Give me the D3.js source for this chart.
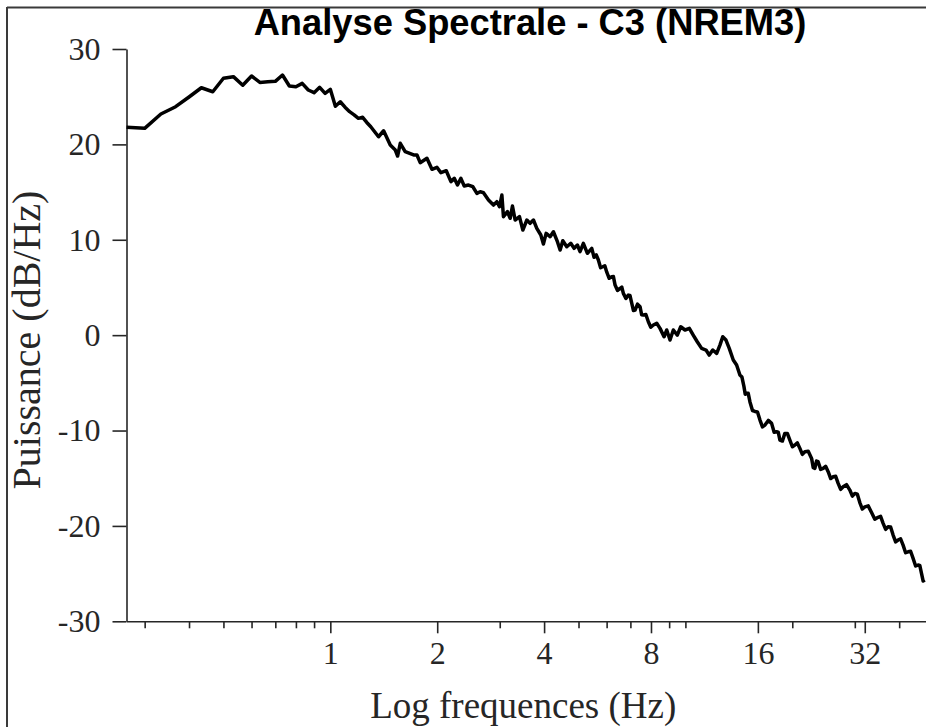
<!DOCTYPE html>
<html><head><meta charset="utf-8">
<script src="https://cdn.jsdelivr.net/npm/d3@7"></script>
<style>html,body{margin:0;padding:0;background:#fff;overflow:hidden}svg{display:block}</style>
</head><body><div id="chart"></div>
<script>
const freqHz = [0.2667,0.3,0.3333,0.3667,0.4,0.4333,0.4667,0.5,0.5333,0.5667,0.6,0.6333,0.6667,0.7,0.7333,0.7667,0.8,0.8333,0.8667,0.9,0.9333,0.9667,1.0,1.0333,1.0667,1.1,1.1333,1.1667,1.2,1.2333,1.2667,1.3,1.367,1.413,1.475,1.524,1.547,1.574,1.625,1.716,1.754,1.791,1.871,1.933,1.996,2.049,2.121,2.186,2.234,2.281,2.332,2.383,2.449,2.52,2.587,2.642,2.70,2.789,2.881,2.945,2.995,3.042,3.073,3.154,3.21,3.258,3.315,3.409,3.485,3.577,3.653,3.733,3.815,3.916,3.982,4.053,4.159,4.249,4.361,4.438,4.516,4.634,4.756,4.859,4.964,5.05,5.16,5.297,5.449,5.531,5.61,5.687,5.77,5.852,5.93,6.006,6.10,6.203,6.27,6.338,6.44,6.546,6.62,6.688,6.80,6.908,6.98,7.063,7.14,7.216,7.33,7.453,7.53,7.613,7.74,7.864,7.99,8.124,8.304,8.483,8.707,8.86,9.051,9.247,9.489,9.701,9.975,10.26,10.52,10.8,11.11,11.43,11.67,11.94,12.25,12.51,12.74,13.01,13.29,13.64,13.94,14.24,14.43,14.62,14.74,14.87,15.03,15.2,15.45,15.7,15.96,16.22,16.48,16.75,17.12,17.49,17.78,18.07,18.26,18.46,18.76,19.06,19.37,19.69,20.01,20.34,20.67,21.01,21.35,21.7,22.18,22.67,22.91,23.15,23.4,23.65,24.04,24.43,24.83,25.24,25.66,26.08,26.5,26.93,27.37,27.82,28.43,29.05,29.53,30.01,30.5,30.99,31.5,32.01,32.72,33.44,34.16,34.89,35.46,36.05,36.64,37.23,37.84,38.46,39.09,39.72,40.37,41.03,41.7,42.39,43.08,43.78,44.5,45.22,45.72,46.23,46.73,47.23];
const powerDb = [21.79,21.68,23.18,23.95,24.97,25.94,25.52,26.93,27.1,26.2,27.17,26.5,26.57,26.61,27.27,26.12,26.05,26.4,25.7,25.42,25.98,25.35,25.77,24.0,24.47,23.9,23.43,23.1,22.73,22.84,22.3,21.85,20.8,21.43,19.93,19.41,18.78,20.11,19.23,18.89,18.89,18.08,18.54,17.39,17.6,17.03,17.24,16.09,16.44,15.74,16.44,15.64,15.74,15.56,14.87,15.04,14.93,14.17,13.64,13.99,13.46,14.69,12.42,12.94,12.25,13.54,12.07,12.42,11.02,12.07,11.72,12.07,11.2,10.5,9.55,10.67,10.32,10.84,9.8,8.92,9.9,9.27,9.63,9.1,9.45,8.75,9.63,8.58,9.1,8.16,8.42,7.88,7.07,7.17,7.28,6.6,5.96,6.13,6.14,5.25,4.68,4.91,5.04,4.38,3.84,4.2,4.16,3.33,2.58,2.63,3.25,2.98,2.14,2.11,2.16,1.41,0.83,1.06,1.24,0.71,-0.17,0.54,-0.51,0.54,0.01,0.88,0.54,0.71,0.01,-0.69,-1.39,-1.56,-2.09,-1.56,-1.91,-1.04,-0.17,-0.51,-1.39,-2.61,-3.13,-4.18,-4.39,-5.4,-6.2,-6.1,-6.1,-7.0,-7.9,-8.0,-8.05,-8.9,-9.62,-9.43,-8.94,-9.25,-10.19,-10.13,-10.17,-11.0,-11.1,-10.3,-10.3,-11.0,-11.7,-11.52,-11.3,-11.87,-12.5,-12.22,-12.17,-12.92,-13.9,-13.97,-13.2,-13.27,-14.07,-13.97,-13.75,-14.32,-15.03,-14.85,-14.8,-15.54,-16.17,-15.9,-15.67,-16.24,-16.87,-16.59,-16.67,-17.55,-18.23,-18.0,-17.9,-18.6,-19.3,-19.1,-19.0,-19.73,-20.36,-20.09,-20.12,-20.96,-21.67,-21.48,-21.35,-22.01,-22.81,-22.71,-22.66,-23.4,-24.2,-24.1,-24.14,-24.98,-25.78,-25.68];
const xMajorTicks = [1,2,4,8,16,32];
const xMinorTicks = [0.3,0.4,0.5,0.6,0.7,0.8,0.9,3,5,6,7,9,10,20,30,40];
const yTicks = [-30,-20,-10,0,10,20,30];
const xDomain = [0.26667, 47.6];
const yDomain = [-30, 30];
const titleText = "Analyse Spectrale - C3 (NREM3)";
const xLabelText = "Log frequences (Hz)";
const yLabelText = "Puissance (dB/Hz)";

const W = 926, H = 727;
const L = 126.5, R = 926, T = 49, B = 621.3;
const axisColor = "#262626";
const serif = "'Liberation Serif','Times New Roman',serif";

const svg = d3.select("#chart").append("svg").attr("width", W).attr("height", H);

// outer frame (top and left edges visible)
svg.append("line").attr("x1", 7).attr("x2", W).attr("y1", 7.5).attr("y2", 7.5).attr("stroke", "#3a3a3a").attr("stroke-width", 2);
svg.append("line").attr("x1", 7).attr("x2", 7).attr("y1", 7).attr("y2", H).attr("stroke", "#3a3a3a").attr("stroke-width", 2);

const x = d3.scaleLog().domain(xDomain).range([L, R]);
const y = d3.scaleLinear().domain(yDomain).range([B, T]);

// minor x ticks
const gMinor = svg.append("g").attr("transform", `translate(0,${B})`)
  .call(d3.axisBottom(x).tickValues(xMinorTicks).tickSize(7).tickSizeOuter(0).tickFormat(""));
gMinor.select(".domain").remove();
gMinor.selectAll("line").attr("stroke", axisColor).attr("stroke-width", 1.6);

// major x axis
const gx = svg.append("g").attr("transform", `translate(0,${B})`)
  .call(d3.axisBottom(x).tickValues(xMajorTicks).tickSize(12).tickSizeOuter(0).tickPadding(8).tickFormat(d3.format("d")));
gx.select(".domain").attr("stroke", axisColor).attr("stroke-width", 1.6);
gx.selectAll("line").attr("stroke", axisColor).attr("stroke-width", 1.6);
gx.selectAll("text").attr("font-family", serif).attr("font-size", 32).attr("fill", "#262626");

// y axis
const gy = svg.append("g").attr("transform", `translate(${L},0)`)
  .call(d3.axisLeft(y).tickValues(yTicks).tickSize(14).tickSizeOuter(0).tickPadding(12).tickFormat(d => d < 0 ? "-" + Math.abs(d) : String(d)));
gy.select(".domain").attr("stroke", axisColor).attr("stroke-width", 1.6);
gy.selectAll("line").attr("stroke", axisColor).attr("stroke-width", 1.6);
gy.selectAll("text").attr("font-family", serif).attr("font-size", 32).attr("fill", "#262626");

// data line
const pts = freqHz.map((f, i) => [f, powerDb[i]]);
svg.append("path").datum(pts)
  .attr("fill", "none").attr("stroke", "#000").attr("stroke-width", 3.5).attr("stroke-linejoin", "round")
  .attr("d", d3.line().x(d => x(d[0])).y(d => y(d[1])));

// labels
svg.append("text").attr("x", 530).attr("y", 35).attr("text-anchor", "middle")
  .attr("font-family", "'Liberation Sans',Arial,sans-serif").attr("font-weight", "bold").attr("font-size", 36.3)
  .attr("fill", "#000").text(titleText);
svg.append("text").attr("x", (L + R) / 2 - 3).attr("y", 718).attr("text-anchor", "middle")
  .attr("font-family", serif).attr("font-size", 37).attr("fill", "#262626").text(xLabelText);
svg.append("text").attr("transform", `translate(40,340) rotate(-90)`).attr("text-anchor", "middle")
  .attr("font-family", serif).attr("font-size", 40).attr("fill", "#262626").text(yLabelText);
</script></body></html>
